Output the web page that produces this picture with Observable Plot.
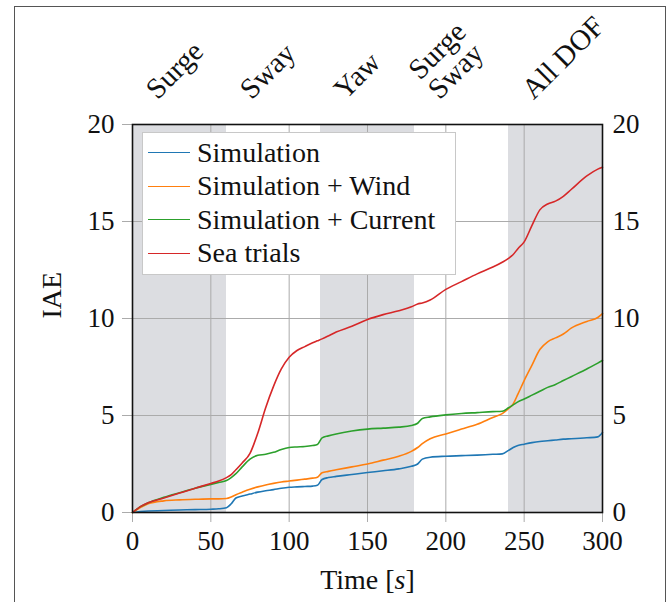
<!DOCTYPE html>
<html>
<head>
<meta charset="utf-8">
<script src="https://cdn.jsdelivr.net/npm/d3@7"></script>
<script src="https://cdn.jsdelivr.net/npm/@observablehq/plot@0.6"></script>
<style>
  html, body { margin: 0; padding: 0; background: #fff; }
  #wrap { position: relative; width: 669px; height: 602px; overflow: hidden; font-family: "Liberation Serif", "Times New Roman", Times, Tinos, "Noto Serif", "DejaVu Serif", FreeSerif, serif; }
  #border { position: absolute; left: 14px; top: 6px; width: 652px; height: 620px; border: 1.5px solid #555; box-sizing: border-box; }
  #chart { position: absolute; left: 0; top: 0; }
  #chart svg, #chart svg text { font-family: "Liberation Serif", "Times New Roman", Times, Tinos, "Noto Serif", "DejaVu Serif", FreeSerif, serif; }
  #legend { position: absolute; left: 142px; top: 132px; width: 314px; height: 143px; box-sizing: border-box; border: 1px solid #c8c8c8; background: #fff; padding-top: 3px; }
  .row { height: 33.5px; display: flex; align-items: center; font-size: 28px; color: #111; }
  .sw { width: 42px; height: 0; border-top: 1.8px solid; margin-left: 5px; margin-right: 7px; }
</style>
</head>
<body>
<div id="wrap">
  <div id="border"></div>
  <div id="chart"></div>
  <div id="legend"></div>
</div>
<script>
// ---- Data ----
const time = [0,5,10,20,30,40,50,55,60,63,66,70,75,80,85,90,95,100,105,110,115,118,121,125,130,140,150,160,170,178,182,185,190,200,210,220,230,236,240,243,246,250,255,260,265,270,275,280,290,297,300];

const simulation = [0,0.05,0.08,0.1,0.13,0.15,0.17,0.19,0.25,0.45,0.75,0.85,0.95,1.05,1.12,1.18,1.25,1.3,1.32,1.34,1.36,1.4,1.7,1.8,1.86,1.96,2.06,2.15,2.25,2.38,2.5,2.75,2.85,2.9,2.93,2.96,3.0,3.02,3.2,3.35,3.45,3.52,3.6,3.66,3.7,3.74,3.78,3.8,3.85,3.9,4.12];

const simWind = [0,0.25,0.45,0.6,0.65,0.68,0.7,0.7,0.72,0.8,0.92,1.05,1.2,1.32,1.42,1.5,1.57,1.62,1.67,1.72,1.77,1.82,2.05,2.12,2.2,2.35,2.5,2.7,2.9,3.15,3.35,3.55,3.8,4.05,4.3,4.55,4.9,5.1,5.35,5.6,6.1,6.8,7.6,8.4,8.8,9.0,9.2,9.5,9.85,10.05,10.25];

const simCurrent = [0,0.3,0.5,0.78,1.02,1.25,1.45,1.55,1.65,1.8,2.0,2.35,2.75,2.95,3.0,3.1,3.25,3.35,3.38,3.4,3.45,3.5,3.85,3.95,4.05,4.2,4.3,4.35,4.4,4.48,4.6,4.85,4.93,5.03,5.1,5.15,5.2,5.22,5.4,5.55,5.7,5.85,6.05,6.25,6.45,6.6,6.8,7.0,7.4,7.7,7.84];

const seaTrials = [0,0.3,0.5,0.75,1.0,1.25,1.5,1.62,1.8,1.95,2.2,2.55,3.05,4.1,5.4,6.5,7.4,8.0,8.35,8.55,8.75,8.85,8.95,9.1,9.3,9.6,9.95,10.2,10.4,10.6,10.75,10.8,10.95,11.5,11.9,12.3,12.65,12.9,13.1,13.3,13.6,13.95,14.8,15.6,15.9,16.05,16.3,16.65,17.35,17.7,17.8];

const seriesNames = ["Simulation", "Simulation + Wind", "Simulation + Current", "Sea trials"];
const seriesColors = ["#1f77b4", "#ff7f0e", "#2ca02c", "#d62728"];
const seriesValues = [simulation, simWind, simCurrent, seaTrials];

const bandStart = [0, 120, 240];
const bandEnd = [60, 180, 300];

const phaseX = [30, 90, 150, 210, 270];
const phaseLabels = ["Surge", "Sway", "Yaw", "Surge\nSway", "All DOF"];

const xTicks = [0, 50, 100, 150, 200, 250, 300];
const yTicks = [0, 5, 10, 15, 20];

// ---- Tables built from the arrays ----
const long = [];
seriesNames.forEach((name, i) => {
  time.forEach((t, j) => long.push({series: name, t, v: seriesValues[i][j]}));
});
const bands = bandStart.map((s, i) => ({x1: s, x2: bandEnd[i]}));
const phases = phaseX.map((x, i) => ({x, label: phaseLabels[i]}));

const font = "'Liberation Serif', 'Times New Roman', Times, Tinos, 'Noto Serif', 'DejaVu Serif', FreeSerif, serif";
const ink = "#111";

const chart = Plot.plot({
  width: 669,
  height: 602,
  marginLeft: 132,
  marginRight: 67,
  marginTop: 124,
  marginBottom: 90,
  style: {fontFamily: font, background: "transparent", overflow: "visible"},
  x: {domain: [0, 300]},
  y: {domain: [0, 20]},
  color: {domain: seriesNames, range: seriesColors},
  marks: [
    Plot.rect(bands, {x1: "x1", x2: "x2", fill: "#dcdde1"}),
    Plot.gridX(xTicks.slice(1, -1), {stroke: "#ababab", strokeOpacity: 1, strokeWidth: 1}),
    Plot.gridY(yTicks.slice(1, -1), {stroke: "#ababab", strokeOpacity: 1, strokeWidth: 1}),
    Plot.axisX({ticks: xTicks, tickSize: 10, tickPadding: 8, stroke: "#ababab", fill: ink, fontSize: 27, label: null}),
    Plot.axisY({anchor: "left", ticks: yTicks, tickSize: 10, tickPadding: 8, stroke: "#ababab", fill: ink, fontSize: 27, label: null}),
    Plot.axisY({anchor: "right", ticks: yTicks, tickSize: 0, tickPadding: 10, fill: ink, fontSize: 27, label: null}),
    Plot.line(long, {x: "t", y: "v", z: "series", stroke: "series", strokeWidth: 1.6, curve: "monotone-x"}),
    Plot.frame({stroke: "#111", strokeWidth: 1.6}),
    Plot.text(phases, {x: "x", text: "label", frameAnchor: "top", dx: -22, dy: -24, rotate: -45, textAnchor: "start", lineAnchor: "bottom", fontSize: 29, fill: ink, lineHeight: 0.95}),
    Plot.text(["IAE"], {frameAnchor: "left", dx: -80, rotate: -90, fontSize: 28, fill: ink}),
    Plot.text(["Time [s]"], {frameAnchor: "bottom", dy: 76, fontSize: 28, fill: ink})
  ]
});
document.getElementById("chart").appendChild(chart);

// italic "s" in the x label
d3.select(chart).selectAll("text").each(function() {
  if (this.textContent === "Time [s]") {
    const t = d3.select(this);
    t.text(null);
    t.append("tspan").text("Time [");
    t.append("tspan").attr("font-style", "italic").text("s");
    t.append("tspan").text("]");
  }
});

// legend
const lg = d3.select("#legend");
seriesNames.forEach((name, i) => {
  const row = lg.append("div").attr("class", "row");
  row.append("div").attr("class", "sw").style("border-top-color", seriesColors[i]);
  row.append("span").text(name);
});
</script>
</body>
</html>
